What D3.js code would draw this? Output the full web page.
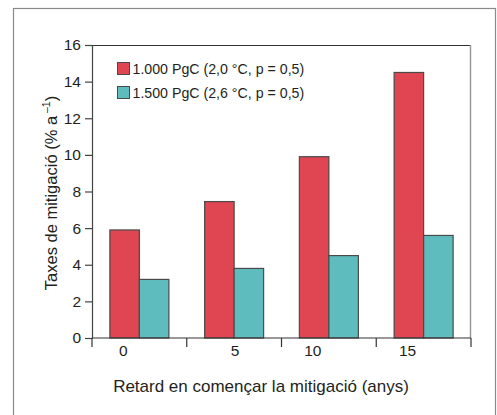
<!DOCTYPE html>
<html>
<head>
<meta charset="utf-8">
<script src="https://d3js.org/d3.v7.min.js"></script>
<style>
  body { margin: 0; background: #fff; }
  text { font-family: "Liberation Sans", Arial, sans-serif; fill: #231f20; }
</style>
</head>
<body>
<svg id="chart" width="497" height="415"></svg>
<script>
const delays = ["0", "5", "10", "15"];
const seriesNames = ["1.000 PgC (2,0 °C, p = 0,5)", "1.500 PgC (2,6 °C, p = 0,5)"];
const values1000 = [5.9, 7.45, 9.9, 14.5];
const values1500 = [3.2, 3.8, 4.5, 5.6];
const yTicks = [0, 2, 4, 6, 8, 10, 12, 14, 16];

const colors = ["#df4651", "#5fbcbe"];
const labelDx = [-16, 1, -16, -16]; // tick labels sit off-centre in the original

const svg = d3.select("#chart");
const margin = { left: 92, top: 45, right: 471, bottom: 338 };

// outer frame
svg.append("rect")
  .attr("x", 13.5).attr("y", 8.5)
  .attr("width", 482).attr("height", 420)
  .attr("fill", "none")
  .attr("stroke", "#8a8a8a")
  .attr("stroke-width", 1.2);

const x = d3.scaleBand()
  .domain(delays)
  .range([margin.left, margin.right]);

const xInner = d3.scaleBand()
  .domain([0, 1])
  .range([0, 59])
  .padding(0);

const y = d3.scaleLinear()
  .domain([0, 16])
  .range([margin.bottom, margin.top]);

// plot box: top and right
svg.append("line")
  .attr("x1", margin.left).attr("x2", margin.right)
  .attr("y1", margin.top + 0.5).attr("y2", margin.top + 0.5)
  .attr("stroke", "#333").attr("stroke-width", 1);
svg.append("line")
  .attr("x1", margin.right - 0.5).attr("x2", margin.right - 0.5)
  .attr("y1", margin.top).attr("y2", margin.bottom)
  .attr("stroke", "#9a9a9a").attr("stroke-width", 1.5);

// bars
const series = [values1000, values1500];
series.forEach((vals, si) => {
  svg.append("g").selectAll("rect")
    .data(vals)
    .enter()
    .append("rect")
    .attr("x", (d, i) => x(delays[i]) + (x.bandwidth() - 59) / 2 + xInner(si))
    .attr("y", d => y(d))
    .attr("width", xInner.bandwidth())
    .attr("height", d => y(0) - y(d))
    .attr("fill", colors[si])
    .attr("stroke", "#4a4a4a")
    .attr("stroke-width", 1.2);
});

// y axis
const yAxis = svg.append("g")
  .attr("transform", `translate(${margin.left},0)`)
  .call(d3.axisLeft(y).tickValues(yTicks).tickSize(7).tickSizeOuter(0).tickPadding(4));
yAxis.select(".domain").attr("stroke", "#444").attr("stroke-width", 1.2);
yAxis.selectAll(".tick line").attr("stroke", "#444").attr("stroke-width", 1.2);
yAxis.selectAll(".tick text")
  .attr("font-size", 15.5)
  .attr("font-family", "Liberation Sans, Arial, sans-serif")
  .attr("fill", "#231f20");

// x axis: ticks at band boundaries
const xAxisG = svg.append("g").attr("transform", `translate(0,${margin.bottom})`);
xAxisG.append("line")
  .attr("x1", margin.left).attr("x2", margin.right)
  .attr("stroke", "#333").attr("stroke-width", 1.2);
const boundaries = delays.map(d => x(d)).concat([x.range()[1]]);
xAxisG.selectAll("line.tk")
  .data(boundaries)
  .enter()
  .append("line")
  .attr("class", "tk")
  .attr("x1", d => d).attr("x2", d => d)
  .attr("y1", 0).attr("y2", 9)
  .attr("stroke", "#333").attr("stroke-width", 1.2);
xAxisG.selectAll("text")
  .data(delays)
  .enter()
  .append("text")
  .attr("x", (d, i) => x(d) + x.bandwidth() / 2 + labelDx[i])
  .attr("y", 18)
  .attr("text-anchor", "middle")
  .attr("font-size", 15.5)
  .text(d => d);

// axis titles
svg.append("text")
  .attr("x", 261)
  .attr("y", 392)
  .attr("text-anchor", "middle")
  .attr("font-size", 17)
  .text("Retard en començar la mitigació (anys)");

const yTitle = svg.append("text")
  .attr("transform", `translate(57,193) rotate(-90)`)
  .attr("text-anchor", "middle")
  .attr("font-size", 16.5);
yTitle.append("tspan").text("Taxes de mitigació (% a");
yTitle.append("tspan").attr("dy", -7).attr("font-size", 10.5).text(" –1");
yTitle.append("tspan").attr("dy", 7).text(")");

// legend
const legend = svg.append("g").attr("transform", "translate(117,62)");
seriesNames.forEach((name, i) => {
  const g = legend.append("g").attr("transform", `translate(0,${i * 24})`);
  g.append("rect")
    .attr("x", 0.5).attr("y", 0.5)
    .attr("width", 12).attr("height", 12)
    .attr("fill", colors[i])
    .attr("stroke", "#4a4a4a")
    .attr("stroke-width", 1);
  g.append("text")
    .attr("x", 15.5)
    .attr("y", 12)
    .attr("font-size", 14.2)
    .text(name);
});
</script>
</body>
</html>
